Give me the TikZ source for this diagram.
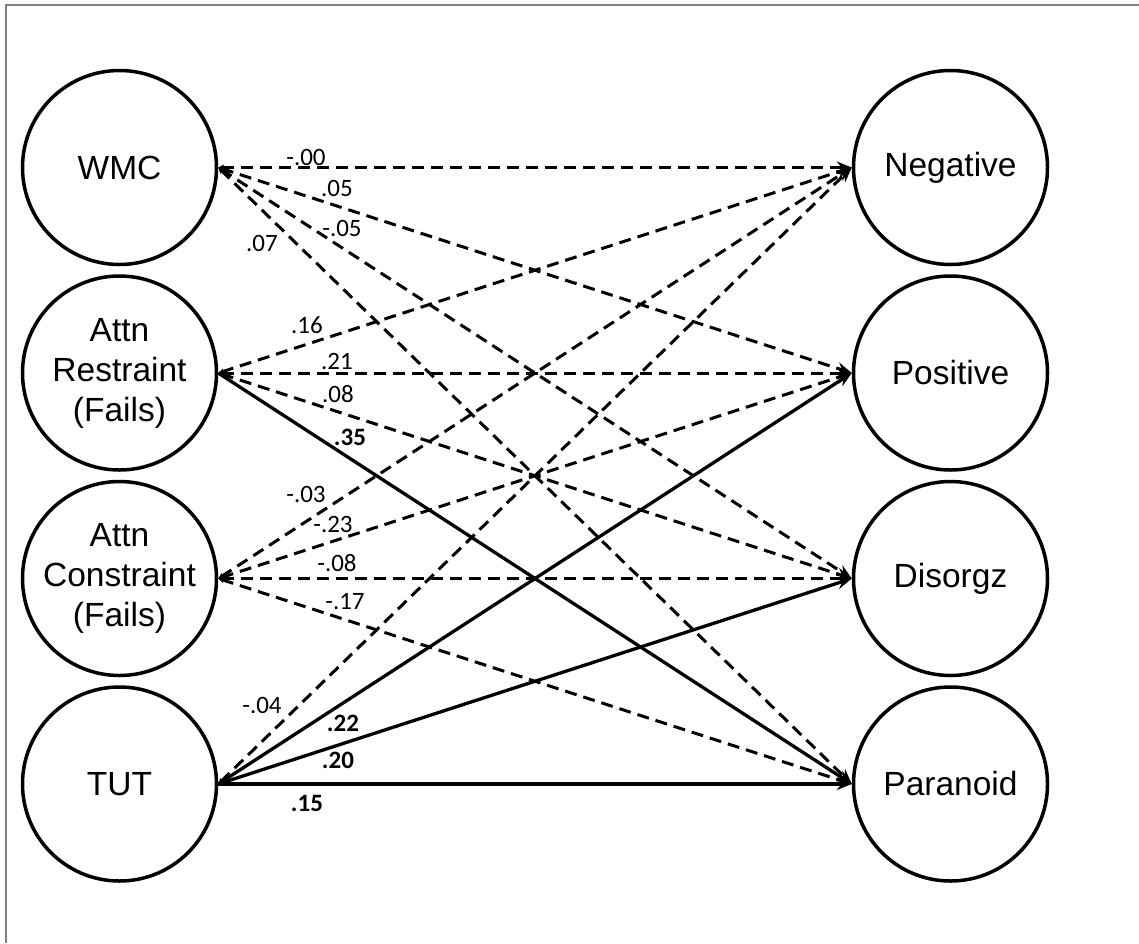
\documentclass[tikz,border=0pt]{standalone}
\usepackage{fontspec}
\setmainfont{Liberation Sans}
\newfontfamily\labfont{Carlito}
\usetikzlibrary{arrows.meta}
\begin{document}
\begin{tikzpicture}[x=1pt,y=-1pt,
  var/.style={circle,draw,line width=3.5pt,minimum size=194pt,inner sep=0pt,
    align=center,font=\fontsize{33.5}{40}\selectfont},
  dpath/.style={line width=3pt,dash pattern=on 12pt off 7pt,
    {Stealth[length=6pt,width=6pt]}-{Stealth[length=15pt,width=12pt]}},
  spath/.style={line width=3.3pt,-{Stealth[length=15pt,width=12pt]}},
  lab/.style={font=\labfont\fontsize{25}{28}\selectfont,inner sep=0pt},
  blab/.style={font=\labfont\bfseries\fontsize{25}{28}\selectfont,inner sep=0pt}]
\useasboundingbox (0,0) rectangle (1139,943);
\draw[gray,line width=1.5pt] (6,943) -- (6,5) -- (1139,5);

\node[var] (wmc) at (119.5,167.5) {WMC};
\node[var] (ar) at (119.5,373) {Attn\\Restraint\\(Fails)};
\node[var] (ac) at (119.5,578.5) {Attn\\Constraint\\(Fails)};
\node[var] (tut) at (119.5,784) {TUT};
\node[var] (neg) at (950.5,167.5) {Negative};
\node[var] (pos) at (950.5,373) {Positive};
\node[var] (dis) at (950.5,578.5) {Disorgz};
\node[var] (par) at (950.5,784) {Paranoid};

\draw[dpath] (wmc.east) -- (neg.west);
\draw[dpath] (wmc.east) -- (pos.west);
\draw[dpath] (wmc.east) -- (dis.west);
\draw[dpath] (wmc.east) -- (par.west);
\draw[dpath] (ar.east) -- (neg.west);
\draw[dpath] (ar.east) -- (pos.west);
\draw[dpath] (ar.east) -- (dis.west);
\draw[spath] (ar.east) -- (par.west);
\draw[dpath] (ac.east) -- (neg.west);
\draw[dpath] (ac.east) -- (pos.west);
\draw[dpath] (ac.east) -- (dis.west);
\draw[dpath] (ac.east) -- (par.west);
\draw[dpath] (tut.east) -- (neg.west);
\draw[spath] (tut.east) -- (pos.west);
\draw[spath] (tut.east) -- (dis.west);
\draw[spath] (tut.east) -- (par.west);

\node[lab] (l1) at (306,157) {-.00};
\node[lab] (l2) at (337,188) {.05};
\node[lab] (l3) at (342,228) {-.05};
\node[lab] (l4) at (262,243) {.07};
\node[lab] (l5) at (307,325) {.16};
\node[lab] (l6) at (337,361) {.21};
\node[lab] (l7) at (338,394) {.08};
\node[blab] (l8) at (350,437) {.35};
\node[lab] (l9) at (306,494) {-.03};
\node[lab] (l10) at (333,524) {-.23};
\node[lab] (l11) at (337,563) {-.08};
\node[lab] (l12) at (345,602) {-.17};
\node[lab] (l13) at (262,705) {-.04};
\node[blab] (l14) at (343,723) {.22};
\node[blab] (l15) at (338,760) {.20};
\node[blab] (l16) at (307,803) {.15};
\end{tikzpicture}
\end{document}
